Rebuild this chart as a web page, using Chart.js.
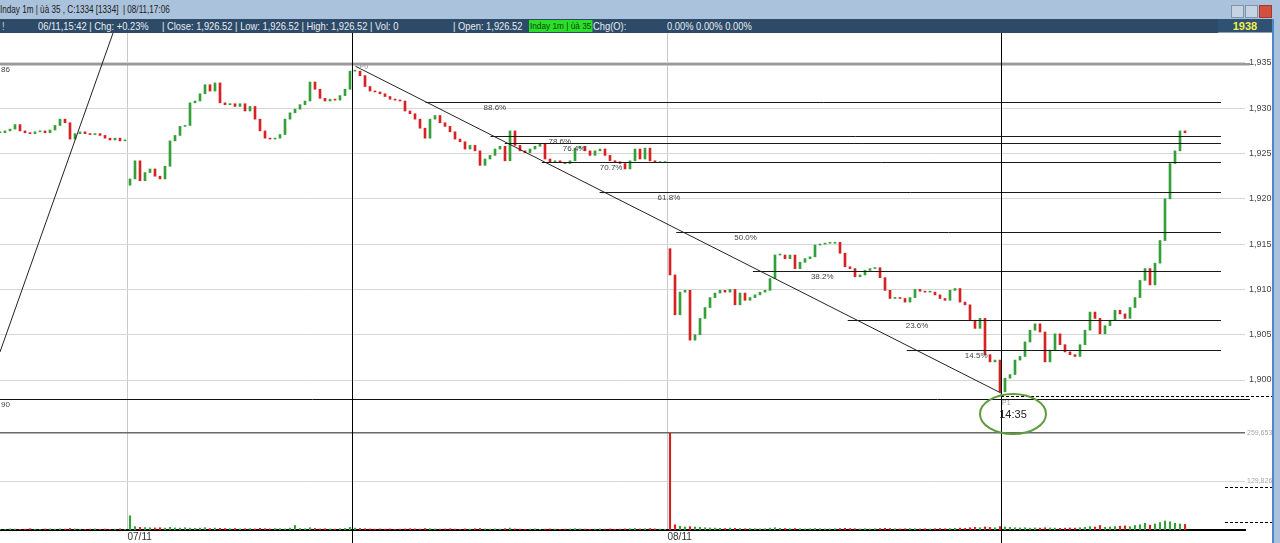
<!DOCTYPE html>
<html lang="vi">
<head>
<meta charset="UTF-8">
<title>Inday 1m</title>
<script src="https://cdn.jsdelivr.net/npm/chart.js"></script>
<style>
    body { margin: 0; width: 1280px; height: 543px; overflow: hidden; background: #fff; position: relative;
           font-family: "Liberation Sans", Arial, sans-serif; }
    .titlebar { position: absolute; left: 0; top: 0; width: 1280px; height: 19px; background: #aac2dc; }
    .titlebar .t { position: absolute; left: 0; top: 3px; font-size: 11px; color: #1b1b1b; white-space: nowrap;
                   transform: scaleX(0.74); transform-origin: left center; }
    .btn { position: absolute; top: 5px; width: 11px; height: 11px; background: #c6d3e2; border: 1px solid #7f93ab; }
    .btn.close { background: #d0513f; border-color: #a43a2c; }
    .infobar { position: absolute; left: 0; top: 19px; width: 1272px; height: 14px; background: #2d4b68; color: #e8ecf2; font-size: 11px; }
    .infobar span { position: absolute; top: 0; line-height: 14px; white-space: nowrap; transform: scaleX(0.85); transform-origin: left center; }
    .infobar .green { background: #27e027; color: #173f17; font-size: 9px; padding: 0 1px; top: 1px; line-height: 12px; transform: scaleX(0.92); }
    .infobar .last { left: 1218px; width: 54px; height: 13px; background: #2f5172; border-bottom: 1px solid #8aa0b8; color: #f0ef4c;
                     text-align: center; font-weight: bold; transform: none; }
    .edge { position: absolute; left: 1272px; top: 19px; width: 8px; height: 524px; background: #aac2dc; border-left: 2px solid #4f86cc; box-sizing: border-box; }
    #chart { position: absolute; left: 0; top: 33px; }
</style>
</head>
<body>
<div class="titlebar">
    <span class="t">Inday 1m | ùà 35 , C:1334 [1334] &nbsp;| 08/11,17:06</span>
    <div class="btn" style="left:1231px"></div>
    <div class="btn" style="left:1245px"></div>
    <div class="btn close" style="left:1259px"></div>
</div>
<div class="infobar">
    <span style="left:2px;color:#ccc">!</span>
    <span style="left:38px">06/11,15:42 | Chg: +0.23%</span>
    <span style="left:162px">| Close: 1,926.52 | Low: 1,926.52 | High: 1,926.52 | Vol: 0</span>
    <span style="left:453px">| Open: 1,926.52</span>
    <span class="green" style="left:529px">Inday 1m | ùà 35</span>
    <span style="left:593px">Chg(O):</span>
    <span style="left:667px">0.00% 0.00% 0.00%</span>
    <span class="last">1938</span>
</div>
<div class="edge"></div>
<canvas id="chart" width="1272" height="510"></canvas>

<script>
    // 1-minute closes, one bar every few minutes (06/11 tail, 07/11, 08/11)
    const closes = [
        1927.3, 1927.5, 1927.7, 1928.2, 1927.5, 1927.3, 1927.2, 1927.4, 1927.5, 1927.3,
        1927.6, 1928.1, 1928.8, 1928.4, 1926.6, 1927.2, 1927.4, 1927.2, 1927.1, 1927.2,
        1927.0, 1926.7, 1926.5, 1926.7, 1926.4, 1926.4,
        1922.2, 1924.2, 1922.0, 1922.9,
        1923.3, 1922.5, 1922.2, 1923.6, 1926.4, 1927.0, 1928.0, 1928.1, 1930.6, 1930.8,
        1931.6, 1932.6, 1931.9, 1932.8, 1930.6, 1930.4, 1930.5, 1930.2, 1930.5, 1929.7,
        1930.2, 1928.8, 1927.5, 1926.7, 1926.6, 1926.7, 1927.1, 1928.8, 1929.5, 1929.9,
        1930.4, 1930.8, 1932.9, 1932.1, 1931.1, 1930.8, 1931.0, 1930.9, 1931.4, 1932.1,
        1934.1, 1934.1, 1933.6, 1932.4, 1931.9, 1931.8, 1931.6, 1931.3, 1931.0, 1930.9,
        1930.8, 1929.7, 1929.4, 1928.8, 1927.8, 1926.7, 1928.8, 1929.2, 1928.4, 1928.0,
        1927.4, 1926.6, 1926.3, 1925.5, 1925.9, 1925.3, 1923.7, 1924.4, 1924.8, 1925.5,
        1925.8, 1924.2, 1927.5, 1925.9, 1925.3, 1925.1, 1925.5, 1925.8, 1926.1, 1924.4,
        1924.0, 1924.2, 1924.0, 1923.9, 1924.2, 1925.6, 1925.8, 1925.3, 1924.8, 1925.3,
        1925.5, 1924.8, 1924.2, 1924.1, 1923.9, 1923.3, 1924.2, 1925.5, 1924.4, 1925.6,
        1924.2, 1924.0, 1924.0, 1924.0,
        1911.6, 1907.2, 1909.7, 1909.9, 1904.4, 1905.0,
        1906.8, 1908.0, 1909.1, 1909.6, 1909.9, 1909.7, 1910.0, 1908.3, 1909.6, 1908.8,
        1909.1, 1909.4, 1909.7, 1909.9, 1911.2, 1913.8, 1913.8, 1913.4, 1913.8, 1912.3,
        1913.0, 1913.4, 1913.6, 1914.9, 1915.0, 1915.1, 1915.1, 1915.2, 1914.0, 1912.5,
        1912.3, 1911.4, 1911.6, 1912.1, 1912.3, 1912.4, 1911.3, 1909.9, 1909.0, 1909.1,
        1909.0, 1908.6, 1909.1, 1910.0, 1909.8, 1909.7, 1909.7, 1909.4, 1909.0, 1908.8,
        1909.9, 1910.1, 1908.6, 1908.3, 1906.6, 1905.7, 1906.8, 1902.8, 1902.0, 1902.2,
        1898.7, 1900.2, 1900.6, 1902.2, 1902.6, 1904.2, 1905.5, 1906.2, 1905.3, 1902.0,
        1903.3, 1905.1, 1903.9, 1903.1, 1902.8, 1902.6, 1903.9, 1905.5, 1907.5, 1906.8,
        1905.1, 1906.0, 1906.6, 1907.7, 1907.3, 1906.8, 1908.0, 1909.1, 1911.0, 1912.3,
        1910.5, 1912.9, 1915.4, 1920.0, 1923.9, 1925.3, 1927.5, 1927.3
    ];

    // session opens that gap away from the previous close
    const gapOpens = { 26: 1921.5, 134: 1914.5 };

    const volumes = [
        2000, 1500, 3000, 2500, 1800, 2200, 3500, 2000, 1500, 2800, 3000, 2400, 3200,
        2600, 4000, 3000, 2200, 1800, 2500, 3000, 2000, 2600, 1800, 2400, 3000, 2000,
        38000, 9000, 7000, 6500, 6000, 5500, 6000, 5000, 7000, 5500,
        5000, 6000, 5000, 4500, 5000, 6000, 4000, 5000, 4500, 4000,
        3500, 4000, 3000, 3500, 4000, 3000, 4500, 3500, 3000, 4000,
        3500, 3000, 5000, 12000, 4000, 3500, 6000, 4000, 3000, 3500,
        3000, 2500, 3500, 4000, 7000, 5000, 4000, 3500, 3000, 2500,
        3000, 2500, 3000, 2000, 2500, 3000, 3500, 3000, 2500, 4000,
        3500, 3000, 2500, 3000, 3500, 2500, 2000, 3000, 2500, 3500,
        4000, 3000, 2500, 3000, 2500, 3500, 5000, 3000, 2500, 2000,
        2500, 3000, 2000, 2500, 3000, 2500, 2000, 2500, 3000, 3500,
        3000, 2500, 2000, 2500, 3000, 2500, 3000, 2000, 2500, 3000,
        3500, 4000, 3000, 3500, 4000, 3000, 2500, 2000,
        259653, 14000, 10000, 8000, 9000, 8000, 7000, 6000, 5500, 5000,
        4500, 4000, 5000, 4500, 4000, 3500, 4000, 3500, 3000, 3500,
        5000, 6000, 4500, 4000, 3500, 4000, 3500, 3000, 3500, 4000,
        3500, 3000, 3000, 3500, 4000, 4500, 4000, 3500, 3000, 3500,
        3000, 3500, 4000, 4500, 4000, 3500, 3000, 3500, 4000, 3500,
        3000, 3500, 3000, 3500, 4000, 3500, 4000, 4500, 5000, 4500,
        6000, 7000, 6000, 8000, 7000, 6000, 9000, 8000, 7000, 6000,
        5500, 6000, 5000, 5500, 5000, 6000, 5500, 5000, 4500, 5000,
        5500, 5000, 6000, 7000, 9000, 8000, 12000, 7000, 8000, 9000,
        10000, 11000, 9000, 12000, 14000, 18000, 13000, 16000, 20000, 24000,
        22000, 18000, 16000, 15000
    ];

    const dayStarts = [25.5, 133.5];
    const dayLabels = ['07/11', '08/11'];
    const priceTicks = [1900, 1905, 1910, 1915, 1920, 1925, 1930, 1935];
    const volTicks = [129826, 259653];

    // fibonacci drawing anchors (bar index, price)
    const fibHigh = { x: 70.3, y: 1934.86 };
    const fibLow = { x: 200.2, y: 1897.90 };
    const fibRatios = [0.886, 0.786, 0.764, 0.707, 0.618, 0.5, 0.382, 0.236, 0.145];
    const fibLabels = ['88.6%', '78.6%', '76.4%', '70.7%', '61.8%', '50.0%', '38.2%', '23.6%', '14.5%'];
    const fibEndX = 244.2;
    const steepLine = [{ x: 0, y: 1903.1 }, { x: 22.6, y: 1938.3 }];
    const lastVolMarks = [116000, 21600];

    const UP = '#34a03a', DOWN = '#d62222';
    const opens = closes.map((c, i) => gapOpens[i] ?? (i > 0 ? closes[i - 1] : c));
    const candles = closes.map((c, i) => ({ x: i, y: [opens[i], c] }));
    const candleColors = closes.map((c, i) => c >= opens[i] ? UP : DOWN);
    const volData = volumes.map((v, i) => ({ x: i, y: v }));

    const FONT = '"Liberation Sans", Arial, sans-serif';

    // drop the label overhang padding so the panes fill the canvas
    const noPad = s => { s.paddingTop = 0; s.paddingBottom = 0; s.paddingLeft = 0; s.paddingRight = 0; };

    const overlay = {
        id: 'overlay',
        afterDatasetsDraw(chart) {
            const { ctx, chartArea: a, scales } = chart;
            const px = v => scales.x.getPixelForValue(v);
            const py = v => scales.y.getPixelForValue(v);
            const pv = v => scales.yv.getPixelForValue(v);
            const range = fibHigh.y - fibLow.y;
            ctx.save();

            // 100% and 0% levels
            ctx.strokeStyle = '#9a9a9a';
            ctx.lineWidth = 2.5;
            ctx.beginPath(); ctx.moveTo(a.left, py(fibHigh.y)); ctx.lineTo(a.right + 5, py(fibHigh.y)); ctx.stroke();
            ctx.strokeStyle = '#111';
            ctx.lineWidth = 1;
            ctx.beginPath(); ctx.moveTo(a.left, Math.round(py(fibLow.y)) + 0.5); ctx.lineTo(a.right + 5, Math.round(py(fibLow.y)) + 0.5); ctx.stroke();

            // retracement levels start where they meet the trend line
            ctx.font = '8px ' + FONT;
            ctx.textBaseline = 'middle';
            fibRatios.forEach((r, k) => {
                const lvl = fibLow.y + r * range;
                const t = (fibHigh.y - lvl) / range;
                const xs = px(fibHigh.x + t * (fibLow.x - fibHigh.x));
                const yy = Math.round(py(lvl)) + 0.5;
                ctx.strokeStyle = '#1a1a1a';
                ctx.beginPath(); ctx.moveTo(xs, yy); ctx.lineTo(px(fibEndX), yy); ctx.stroke();
                ctx.fillStyle = '#444';
                ctx.fillText(fibLabels[k], xs + 58, yy + 5);
            });

            // trend line
            ctx.strokeStyle = '#222';
            ctx.beginPath(); ctx.moveTo(px(fibHigh.x) + 4, py(fibHigh.y) + 2); ctx.lineTo(px(fibLow.x), py(fibLow.y) - 6); ctx.stroke();

            // steep line on the left
            ctx.save();
            ctx.beginPath(); ctx.rect(a.left, a.top, a.right - a.left, a.bottom - a.top); ctx.clip();
            ctx.beginPath(); ctx.moveTo(px(steepLine[0].x), py(steepLine[0].y)); ctx.lineTo(px(steepLine[1].x), py(steepLine[1].y)); ctx.stroke();
            ctx.restore();

            // vertical markers
            ctx.strokeStyle = '#000';
            [fibHigh.x, fibLow.x].forEach(v => {
                const xx = Math.round(px(v)) + 0.5;
                ctx.beginPath(); ctx.moveTo(xx, 0); ctx.lineTo(xx, chart.height); ctx.stroke();
            });

            // dashed level from P1 to the right edge
            ctx.setLineDash([3, 2]);
            const yd = Math.round(py(fibLow.y)) - 2.5;
            ctx.beginPath(); ctx.moveTo(px(fibLow.x), yd); ctx.lineTo(chart.width, yd); ctx.stroke();
            lastVolMarks.forEach(v => {
                const yy = Math.round(pv(v)) + 0.5;
                ctx.beginPath(); ctx.moveTo(a.right - 20, yy); ctx.lineTo(chart.width, yy); ctx.stroke();
            });
            ctx.setLineDash([]);

            // anchor labels
            ctx.fillStyle = '#999';
            ctx.font = '7px ' + FONT;
            ctx.fillText('P0', px(fibHigh.x) + 8, py(fibHigh.y) + 3);
            ctx.fillText('P1', px(fibLow.x) + 1, py(fibLow.y) + 4);
            ctx.fillStyle = '#444';
            ctx.font = '8px ' + FONT;
            ctx.fillText('86', a.left + 1, py(fibHigh.y) + 6);
            ctx.fillText('90', a.left + 1, py(fibLow.y) + 6);

            // time callout
            const cx = px(fibLow.x) + 12, cy = py(fibLow.y) + 15;
            ctx.strokeStyle = '#5d9b3c';
            ctx.lineWidth = 2;
            ctx.beginPath(); ctx.ellipse(cx, cy, 33, 20, 0, 0, Math.PI * 2); ctx.stroke();
            ctx.fillStyle = '#222';
            ctx.font = '11px ' + FONT;
            ctx.textAlign = 'center';
            ctx.fillText('14:35', cx, cy + 1);
            ctx.restore();
        }
    };

    Chart.defaults.font.family = FONT;

    new Chart(document.getElementById('chart'), {
        type: 'bar',
        data: {
            datasets: [
                { label: 'Vol', yAxisID: 'yv', data: volData, backgroundColor: candleColors, barThickness: 1.5, grouped: false },
                { label: 'Price', yAxisID: 'y', data: candles, backgroundColor: candleColors, barThickness: 2, minBarLength: 1, grouped: false }
            ]
        },
        options: {
            responsive: false,
            animation: false,
            devicePixelRatio: 1,
            layout: { padding: 0 },
            plugins: { legend: { display: false }, tooltip: { enabled: false } },
            scales: {
                x: {
                    type: 'linear', min: 0, max: 249, offset: false,
                    afterBuildTicks: s => { s.ticks = dayStarts.map(v => ({ value: v })); },
                    afterFit: s => { s.height = 13; noPad(s); },
                    ticks: { callback: (v, i) => dayLabels[i], align: 'start', padding: 1, maxRotation: 0, color: '#333', font: { size: 10 } },
                    grid: { color: '#c9c9c9', drawTicks: false, offset: false },
                    border: { color: '#000', width: 2 }
                },
                y: {
                    position: 'right', stack: 'main', stackWeight: 400,
                    min: 1894.15, max: 1938.31,
                    afterBuildTicks: s => { s.ticks = priceTicks.map(v => ({ value: v })); },
                    afterFit: s => { s.width = 27; noPad(s); },
                    ticks: { callback: v => v.toLocaleString('en-US'), padding: 4, color: '#444', font: { size: 9 } },
                    grid: { color: '#d6d6d6', drawTicks: false },
                    border: { display: false }
                },
                yv: {
                    position: 'right', stack: 'main', stackWeight: 97,
                    min: 0, max: 259653,
                    afterBuildTicks: s => { s.ticks = volTicks.map(v => ({ value: v })); },
                    afterFit: s => { s.width = 27; noPad(s); },
                    ticks: { callback: v => v.toLocaleString('en-US'), padding: 2, color: '#a8a8a8', font: { size: 7 } },
                    grid: { color: ctx => ctx.tick && ctx.tick.value === 259653 ? '#6a6a6a' : '#d6d6d6', lineWidth: ctx => ctx.tick && ctx.tick.value === 259653 ? 1.5 : 1, drawTicks: false },
                    border: { display: false }
                }
            }
        },
        plugins: [overlay]
    });
</script>
</body>
</html>
